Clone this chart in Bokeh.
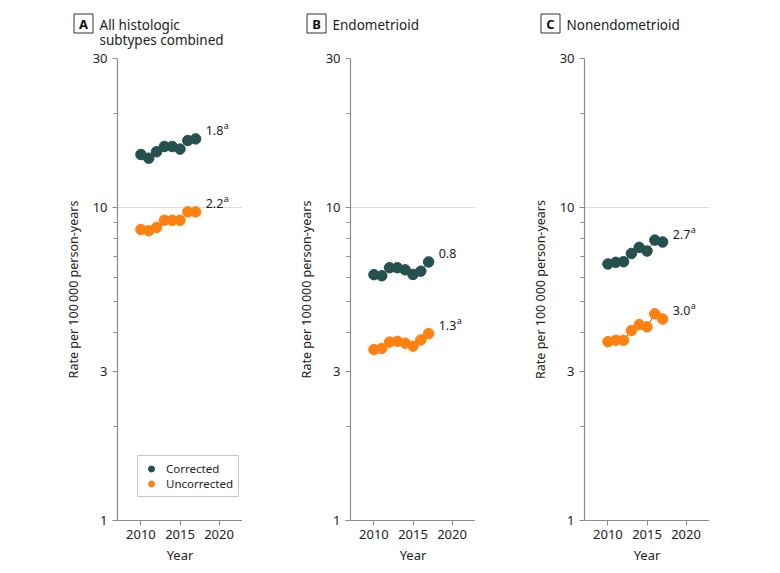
from bokeh.plotting import figure
from bokeh.layouts import row, column
from bokeh.models import (FixedTicker, PrintfTickFormatter, Range1d,
                          ColumnDataSource, Legend, LegendItem)
from bokeh.core.properties import value
from bokeh.embed import file_html
from bokeh.resources import INLINE

years = [2010, 2011, 2012, 2013, 2014, 2015, 2016, 2017]

# Panel A: all histologic subtypes combined
a_corrected = [14.8, 14.4, 15.1, 15.7, 15.7, 15.4, 16.4, 16.6]
a_uncorrected = [8.52, 8.44, 8.65, 9.12, 9.12, 9.12, 9.70, 9.70]
# Panel B: endometrioid
b_corrected = [6.11, 6.06, 6.43, 6.43, 6.33, 6.12, 6.27, 6.71]
b_uncorrected = [3.52, 3.55, 3.72, 3.74, 3.69, 3.61, 3.78, 3.96]
# Panel C: nonendometrioid
c_corrected = [6.61, 6.69, 6.72, 7.14, 7.47, 7.27, 7.88, 7.77]
c_uncorrected = [3.73, 3.77, 3.77, 4.05, 4.23, 4.16, 4.58, 4.41]

panel_letters = ["A", "B", "C"]
panel_titles = [["All histologic", "subtypes combined"], ["Endometrioid"], ["Nonendometrioid"]]
ylabels = ["Rate per 100\u2009000 person-years", "Rate per 100\u2009000 person-years",
           "Rate per 100 000 person-years"]
apc_text = [["1.8", "2.2"], ["0.8", "1.3"], ["2.7", "3.0"]]
apc_sup = [["a", "a"], ["", "a"], ["a", "a"]]

y_major = [1, 3, 10, 30]
y_minor = [2, 4, 5, 6, 7, 8, 9, 20]
x_major = [2010, 2015, 2020]

C_COL = "#24504e"
U_COL = "#ff8210"
FONT = "Noto Sans"
AX_COL = "#8c8c8c"
TXT_COL = "#222222"

series = [(a_corrected, a_uncorrected), (b_corrected, b_uncorrected), (c_corrected, c_uncorrected)]
borders_left = [117, 108, 109]

FH = 462
FW = 125
TH = 50  # height of title strip

# frame left edges on the page (layout arithmetic)
frame_lefts = []
acc = 0
for bl in borders_left:
    frame_lefts.append(acc + bl)
    acc += bl + FW
TOTAL_W = acc

# ---- title strip spanning all panels ----
t = figure(frame_width=TOTAL_W, frame_height=TH, x_range=Range1d(0, TOTAL_W),
           y_range=Range1d(0, TH), output_backend="svg", toolbar_location=None,
           x_axis_location=None, y_axis_location=None,
           min_border_left=0, min_border_right=0, min_border_top=0, min_border_bottom=0)
t.outline_line_color = None
t.xgrid.visible = False
t.ygrid.visible = False
box_x = [fl - 34 for fl in frame_lefts]
t.rect(x=box_x, y=[TH - 23] * 3, width=19, height=19, width_units="screen",
       height_units="screen", fill_color="white", line_color="#333333", line_width=1)
t.text(x=box_x, y=[TH - 23] * 3, text=panel_letters, text_align="center",
       text_baseline="middle", text_font=value(FONT), text_font_size="13px",
       text_font_style="bold", text_color="#111111")
tx, ty, tt = [], [], []
for i in range(3):
    for j, line in enumerate(panel_titles[i]):
        tx.append(frame_lefts[i] - 18)
        ty.append(TH - 24 - 15 * j)
        tt.append(line)
t.text(x=tx, y=ty, text=tt, text_align="left", text_baseline="middle",
       text_font=value(FONT), text_font_size="13.5px", text_color=TXT_COL)

figs = []
for i in range(3):
    corr, unc = series[i]
    bl = borders_left[i]
    p = figure(frame_width=FW, frame_height=FH, y_axis_type="log",
               x_range=Range1d(2007, 2023), y_range=Range1d(1, 30),
               output_backend="svg", toolbar_location=None,
               min_border_left=bl, min_border_right=0,
               min_border_top=8, min_border_bottom=45)
    p.outline_line_color = None

    p.xgrid.grid_line_color = None
    p.ygrid.ticker = FixedTicker(ticks=[10, 30])
    p.ygrid.grid_line_color = "#dcdcdc"
    p.ygrid.grid_line_width = 1.2

    p.yaxis.ticker = FixedTicker(ticks=y_major, minor_ticks=y_minor)
    p.yaxis.formatter = PrintfTickFormatter(format="%d")
    p.xaxis.ticker = FixedTicker(ticks=x_major, minor_ticks=[])
    for ax in (p.xaxis, p.yaxis):
        ax.axis_line_color = AX_COL
        ax.axis_line_width = 1.2
        ax.major_tick_line_color = AX_COL
        ax.minor_tick_line_color = AX_COL
        ax.major_tick_in = 0
        ax.major_tick_out = 5
        ax.minor_tick_in = 0
        ax.minor_tick_out = 4
        ax.major_label_text_font = FONT
        ax.major_label_text_font_size = "13px"
        ax.major_label_text_color = TXT_COL
        ax.axis_label_text_font = FONT
        ax.axis_label_text_font_style = "normal"
        ax.axis_label_text_color = TXT_COL
    p.xaxis.axis_label = "Year"
    p.xaxis.axis_label_text_font_size = "13px"
    p.xaxis.major_label_standoff = 4
    p.xaxis.axis_label_standoff = 4
    p.yaxis.axis_label = ylabels[i]
    p.yaxis.axis_label_text_font_size = "12.5px"
    p.yaxis.major_label_standoff = 5
    p.yaxis.axis_label_standoff = 8

    src = ColumnDataSource(dict(year=years, corr=corr, unc=unc))
    p.line("year", "corr", source=src, line_color="#3a3a3a", line_width=0.8)
    p.line("year", "unc", source=src, line_color="#3a3a3a", line_width=0.8)
    rc = p.scatter("year", "corr", source=src, size=10.5, fill_color=C_COL, line_color=C_COL)
    ru = p.scatter("year", "unc", source=src, size=10.5, fill_color=U_COL, line_color=U_COL)

    lsrc = ColumnDataSource(dict(x=[years[-1], years[-1]], y=[corr[-1], unc[-1]],
                                 t=apc_text[i], s=apc_sup[i]))
    p.text("x", "y", text="t", source=lsrc, x_offset=10, y_offset=-8,
           text_baseline="middle", text_align="left",
           text_font=value(FONT), text_font_size="12.5px", text_color=TXT_COL)
    p.text("x", "y", text="s", source=lsrc, x_offset=28, y_offset=-13,
           text_baseline="middle", text_align="left",
           text_font=value(FONT), text_font_size="9px", text_color=TXT_COL)

    if i == 0:
        leg = Legend(items=[LegendItem(label="Corrected", renderers=[rc]),
                            LegendItem(label="Uncorrected", renderers=[ru])],
                     location=(20, 23), border_line_color=AX_COL, border_line_width=1,
                     label_text_font=FONT, label_text_font_size="11.5px",
                     label_text_color=TXT_COL, padding=5, spacing=0,
                     label_height=15, glyph_height=15, glyph_width=16,
                     label_standoff=7, margin=0, background_fill_alpha=1)
        p.add_layout(leg, "center")
    figs.append(p)

layout = column(t, row(*figs, spacing=0), spacing=0)
open("out.html", "w").write(file_html(layout, INLINE))
